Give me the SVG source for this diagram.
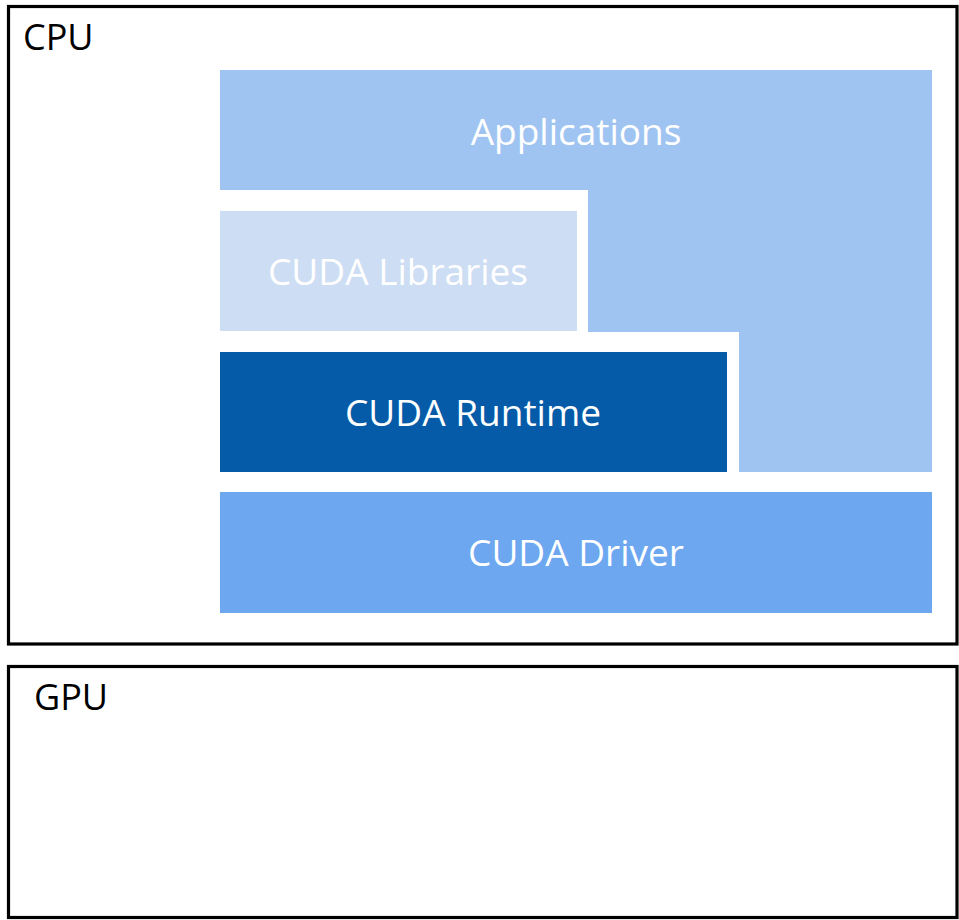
<svg xmlns="http://www.w3.org/2000/svg" width="959" height="920" viewBox="0 0 959 920">
<style>
.frame{fill:#FFFFFF;stroke:#000000;stroke-width:3.2}
.lbl{font-family:"Open Sans","Noto Sans","DejaVu Sans",sans-serif;font-size:37px;fill:#FFFFFF;text-anchor:middle}
.title{font-family:"Open Sans","Noto Sans","DejaVu Sans",sans-serif;font-size:36px;fill:#000000}
</style>
<rect width="959" height="920" fill="#FFFFFF"/>
<g id="cpu">
<rect class="frame" x="8.5" y="6.5" width="948.5" height="637.5"/>
<text class="title" x="23" y="50">CPU</text>
</g>
<g id="gpu">
<rect class="frame" x="8.5" y="666.5" width="948.5" height="251"/>
<text class="title" x="34" y="710">GPU</text>
</g>
<g id="applications">
<path d="M220,70 H932 V472 H739 V332 H588 V190 H220 Z" fill="#A0C4F1"/>
<text class="lbl" x="576" y="144.5">Applications</text>
</g>
<g id="cuda-libraries">
<rect x="220" y="211" width="357" height="120" fill="#CDDDF3"/>
<text class="lbl" x="398" y="284.5">CUDA Libraries</text>
</g>
<g id="cuda-runtime">
<rect x="220" y="352" width="507" height="120" fill="#055BA8"/>
<text class="lbl" x="473" y="425.5">CUDA Runtime</text>
</g>
<g id="cuda-driver">
<rect x="220" y="492" width="712" height="121" fill="#6DA7F0"/>
<text class="lbl" x="576" y="565.5">CUDA Driver</text>
</g>
<g id="connectors"></g>
</svg>
